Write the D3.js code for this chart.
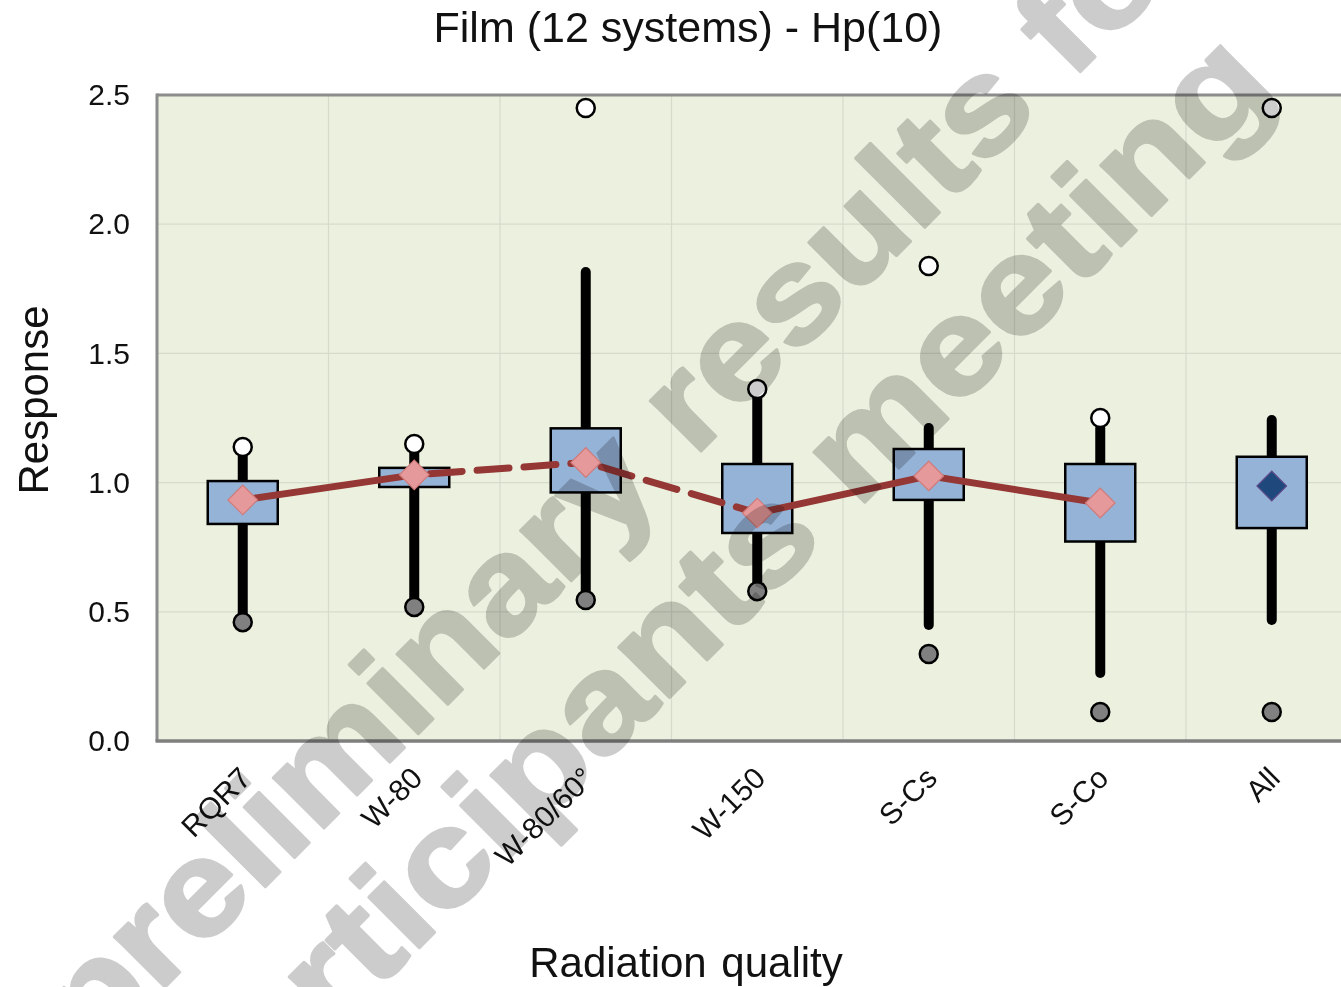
<!DOCTYPE html>
<html>
<head>
<meta charset="utf-8">
<script src="https://cdn.jsdelivr.net/npm/d3@7"></script>
<style>
  html, body { margin: 0; padding: 0; background: #fff; }
  svg { display: block; }
  text { font-family: "Liberation Sans", Arial, sans-serif; }
</style>
</head>
<body>
<script>
// ---- data ----
const categories = ["RQR7", "W-80", "W-80/60°", "W-150", "S-Cs", "S-Co", "All"];
const q1 =         [0.840, 0.983, 0.962, 0.805, 0.933, 0.772, 0.824];
const q3 =         [1.006, 1.057, 1.210, 1.072, 1.130, 1.072, 1.100];
const whiskerLow = [0.460, 0.519, 0.546, 0.580, 0.449, 0.263, 0.468];
const whiskerHigh= [1.100, 1.120, 1.815, 1.330, 1.211, 1.210, 1.242];
const means =      [0.933, 1.030, 1.078, 0.882, 1.026, 0.921, 0.987];
const maxValues =  [1.138, 1.149, 2.450, 1.362, 1.838, 1.250, 2.450];
const minValues =  [0.460, 0.519, 0.546, 0.580, 0.337, 0.112, 0.112];
const segmentStyles = ["solid", "dashed", "dashed", "solid", "solid"]; // mean line between first 6
const yTicks = [0, 0.5, 1.0, 1.5, 2.0, 2.5];
const titleText = "Film (12 systems) - Hp(10)";
const yTitle = "Response";
const xTitle = "Radiation quality";
const watermarkLines = ["preliminary results for", "participants meeting"];

// ---- layout ----
const W = 1341, H = 987;
const pLeft = 157, pTop = 95, pBottom = 741, pRight = 1357.5;

const svg = d3.select("body").append("svg").attr("width", W).attr("height", H);

const x = d3.scaleBand().domain(categories).range([pLeft, pRight]).padding(0);
const y = d3.scaleLinear().domain([0, 2.5]).range([pBottom, pTop]);
const cx = d => x(d) + x.bandwidth() / 2;

// plot background
svg.append("rect").attr("x", pLeft).attr("y", pTop)
  .attr("width", pRight - pLeft).attr("height", pBottom - pTop).attr("fill", "#ebf1de");

// grid lines
svg.append("g").selectAll("line").data(yTicks.filter(t => t > 0 && t < 2.5)).join("line")
  .attr("x1", pLeft).attr("x2", pRight).attr("y1", d => y(d)).attr("y2", d => y(d))
  .attr("stroke", "#d6dccb").attr("stroke-width", 1.2);
svg.append("g").selectAll("line").data(categories.slice(1)).join("line")
  .attr("x1", d => x(d)).attr("x2", d => x(d)).attr("y1", pTop).attr("y2", pBottom)
  .attr("stroke", "#d6dccb").attr("stroke-width", 1.2);

// borders
svg.append("line").attr("x1", pLeft).attr("x2", pRight).attr("y1", pTop).attr("y2", pTop)
  .attr("stroke", "#8c8c8c").attr("stroke-width", 3);
svg.append("line").attr("x1", pLeft).attr("x2", pLeft).attr("y1", pTop - 1.5).attr("y2", pBottom)
  .attr("stroke", "#8c8c8c").attr("stroke-width", 3);
svg.append("line").attr("x1", pLeft - 1.5).attr("x2", pRight).attr("y1", pBottom).attr("y2", pBottom)
  .attr("stroke", "#7f7f7f").attr("stroke-width", 3.5);

// y axis
const yAxis = svg.append("g").attr("transform", `translate(${pLeft},0)`)
  .call(d3.axisLeft(y).tickValues(yTicks).tickFormat(d3.format(".1f")).tickSize(0).tickPadding(27));
yAxis.select(".domain").remove();
yAxis.selectAll("text").attr("font-size", 30).attr("fill", "#111")
  .attr("font-family", "'Liberation Sans', Arial, sans-serif");

// x axis labels
const xAxis = svg.append("g").attr("transform", `translate(0,${pBottom})`)
  .call(d3.axisBottom(x).tickSize(0).tickPadding(0));
xAxis.select(".domain").remove();
xAxis.selectAll("text")
  .attr("font-size", 30).attr("fill", "#111")
  .attr("font-family", "'Liberation Sans', Arial, sans-serif")
  .attr("text-anchor", "end").attr("dy", 0).attr("y", 0)
  .attr("transform", "translate(10,39) rotate(-45)");

const idx = d3.range(categories.length);

// whiskers
svg.append("g").selectAll("line").data(idx).join("line")
  .attr("x1", i => cx(categories[i])).attr("x2", i => cx(categories[i]))
  .attr("y1", i => y(whiskerLow[i])).attr("y2", i => y(whiskerHigh[i]))
  .attr("stroke", "#000").attr("stroke-width", 10).attr("stroke-linecap", "round");

// boxes
svg.append("g").selectAll("rect").data(idx).join("rect")
  .attr("x", i => cx(categories[i]) - 35).attr("width", 70)
  .attr("y", i => y(q3[i])).attr("height", i => y(q1[i]) - y(q3[i]))
  .attr("fill", "#95b3d7").attr("stroke", "#000").attr("stroke-width", 2.5);

// min / max points
svg.append("g").selectAll("circle").data(idx).join("circle")
  .attr("cx", i => cx(categories[i])).attr("cy", i => y(minValues[i])).attr("r", 9)
  .attr("fill", "#808080").attr("stroke", "#000").attr("stroke-width", 2.5);
svg.append("g").selectAll("circle").data(idx).join("circle")
  .attr("cx", i => cx(categories[i])).attr("cy", i => y(maxValues[i])).attr("r", 9)
  .attr("fill", "#fff").attr("stroke", "#000").attr("stroke-width", 2.5);

// mean line segments
svg.append("g").selectAll("line").data(segmentStyles.map((s, i) => ({s, i}))).join("line")
  .attr("x1", d => cx(categories[d.i])).attr("y1", d => y(means[d.i]))
  .attr("x2", d => cx(categories[d.i + 1])).attr("y2", d => y(means[d.i + 1]))
  .attr("stroke", "#953735").attr("stroke-width", 7).attr("stroke-linecap", "round")
  .attr("stroke-dasharray", d => d.s === "dashed" ? "32,15" : null)
  .attr("stroke-dashoffset", d => d.s === "dashed" ? -16 : null);

// mean diamonds
const diamond = d3.symbol().type(d3.symbolSquare).size(440);
svg.append("g").selectAll("path").data(idx).join("path")
  .attr("d", diamond)
  .attr("transform", i => `translate(${cx(categories[i])},${y(means[i])}) rotate(45)`)
  .attr("fill", i => i === categories.length - 1 ? "#1f497d" : "#e6999a")
  .attr("stroke", i => i === categories.length - 1 ? "#5f4b8b" : "#d07a7a")
  .attr("stroke-width", 1.2);

// titles
svg.append("text").attr("x", 688).attr("y", 42).attr("text-anchor", "middle")
  .attr("font-size", 43).attr("fill", "#111").text(titleText);
svg.append("text").attr("transform", "translate(48,400) rotate(-90)").attr("text-anchor", "middle")
  .attr("font-size", 42).attr("fill", "#111").text(yTitle);
svg.append("text").attr("x", 686).attr("y", 977).attr("text-anchor", "middle")
  .attr("font-size", 42).attr("word-spacing", 3).attr("fill", "#111").text(xTitle);

// watermark
const wm = svg.append("g").style("mix-blend-mode", "multiply");
wm.append("text").attr("transform", "translate(93,1059) rotate(-45) scale(1.11,1)")
  .attr("text-anchor", "start")
  .attr("font-family", "'DejaVu Sans', sans-serif").attr("font-weight", "bold")
  .attr("font-size", 135).attr("fill", "#cccccc")
  .attr("stroke", "#cccccc").attr("stroke-width", 3).attr("stroke-linejoin", "round")
  .text(watermarkLines[0]);
wm.append("text").attr("transform", "translate(1278,89) rotate(-45) scale(1.15,1)")
  .attr("text-anchor", "end")
  .attr("font-family", "'DejaVu Sans', sans-serif").attr("font-weight", "bold")
  .attr("font-size", 135).attr("fill", "#cccccc")
  .attr("stroke", "#cccccc").attr("stroke-width", 3).attr("stroke-linejoin", "round")
  .text(watermarkLines[1]);
</script>
</body>
</html>
